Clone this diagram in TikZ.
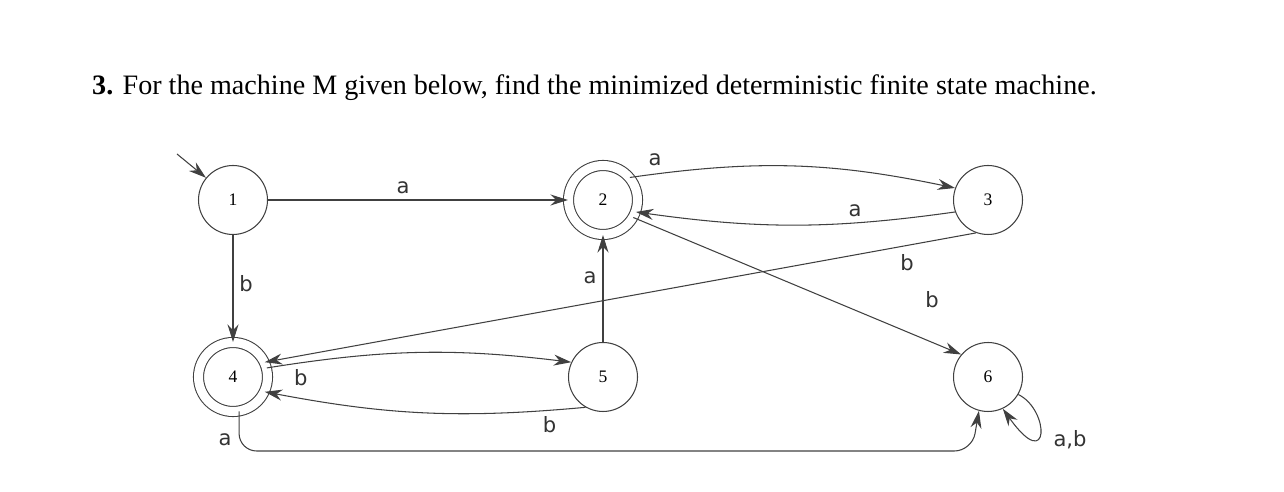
\documentclass[tikz,border=0pt]{standalone}
\usepackage{fontspec}
\setmainfont{Liberation Serif}
\newfontfamily\lblfont{DejaVu Sans}
\usetikzlibrary{arrows.meta}
\begin{document}
\begin{tikzpicture}[x=0.02cm,y=-0.02cm,
  st/.style={circle,draw=black!75,line width=0.6pt,minimum size=1.38cm,inner sep=0pt,font=\normalsize},
  acc/.style={st,double,double distance=0.18cm},
  ed/.style={draw=black!75,line width=0.6pt,-{Stealth[length=3.5mm,width=2.2mm]}},
  lb/.style={font=\lblfont\large,text=black!80}]
\useasboundingbox (0,0) rectangle (1284,492);
\node[anchor=west,font=\fontsize{16}{19}\selectfont] (title) at (86,88) {\textbf{3.} For the machine M given below, find the minimized deterministic finite state machine.};
\node[st] (s1) at (233,200) {1};
\node[acc] (s2) at (603,200) {2};
\node[st] (s3) at (988,200) {3};
\node[acc] (s4) at (233,377) {4};
\node[st] (s5) at (603,377) {5};
\node[st] (s6) at (988,377) {6};
\coordinate (st0) at (177,154);
\draw[ed] (st0) -- (s1);
\draw[ed] (s1) -- node[lb,above,pos=0.45] {a} (s2);
\draw[ed] (s2.40) to[bend left=10] (s3.160);
\node[lb] (la23) at (655,160) {a};
\draw[ed] (s3.200) to[bend left=8] node[lb,above,pos=0.3] {a} (s2.-20);
\draw[ed] (s3.-110) -- (s4.25);
\node[lb] (lb34) at (907,263) {b};
\draw[ed] (s2.-30) -- (s6.140);
\node[lb] (lb26) at (932,300) {b};
\draw[ed] (s1) -- node[lb,right,pos=0.45] {b} (s4);
\draw[ed] (s5) -- node[lb,left,pos=0.6] {a} (s2);
\draw[ed] (s4.15) to[bend left=8] node[lb,below,pos=0.1] {b} (s5.155);
\draw[ed] (s5.-120) to[bend left=8] node[lb,below,pos=0.1] {b} (s4.-25);
\draw[ed,rounded corners=10pt] (s4.-80) |- (972,451) -- (s6.-105);
\node[lb] (la46) at (225,440) {a};
\draw[ed] (s6.-30) .. controls (1050,410) and (1050,475) .. (s6.-65);
\node[lb] (lab6) at (1070,440) {a,b};
\end{tikzpicture}
\end{document}
